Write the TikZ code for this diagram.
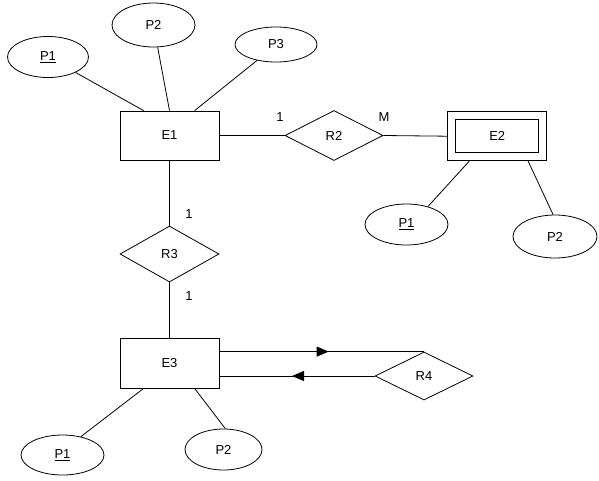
\documentclass[tikz,border=0pt]{standalone}
\usepackage{fontspec}
\setmainfont{Liberation Sans}
\usetikzlibrary{shapes.geometric,arrows.meta,decorations.markings}
\begin{document}
\begin{tikzpicture}[x=1pt,y=-1pt,
 every node/.style={font=\fontsize{13}{15}\selectfont},
 line width=0.8pt,
 entity/.style={draw, rectangle, minimum width=99pt, minimum height=49pt, inner sep=0pt},
 attr/.style={draw, ellipse, inner sep=0pt},
 rel/.style={draw, diamond, inner sep=0pt},
 card/.style={inner sep=0pt},
 midarrow/.style={postaction={decorate}, decoration={markings, mark=at position #1 with {\arrow{Triangle[length=12pt,width=10pt]}}}}
]
\useasboundingbox (0,0) rectangle (599,480);
% entities
\node[entity] (E1) at (169.5,135.5) {E1};
\node[entity, minimum width=99pt, minimum height=49pt] (E2) at (497.2,136.2) {};
\node[draw, rectangle, minimum width=83.3pt, minimum height=33.3pt, inner sep=0pt] (E2in) at (E2.center) {E2};
\node[entity, minimum height=50pt] (E3) at (169.5,363) {E3};
% relationships
\node[rel, minimum width=98pt, minimum height=50pt] (R2) at (334,135.5) {R2};
\node[rel, minimum width=99pt, minimum height=56pt] (R3) at (169.5,254) {R3};
\node[rel, minimum width=98pt, minimum height=48pt] (R4) at (424,376) {R4};
% attributes
\node[attr, minimum width=81pt, minimum height=41pt] (A1) at (48,57) {\underline{P1}};
\node[attr, minimum width=83pt, minimum height=44pt] (A2) at (153.5,25) {P2};
\node[attr, minimum width=82pt, minimum height=35pt] (A3) at (276,44.5) {P3};
\node[attr, minimum width=83pt, minimum height=41pt] (B1) at (406.5,224.5) {\underline{P1}};
\node[attr, minimum width=84pt, minimum height=43pt] (B2) at (555,236.5) {P2};
\node[attr, minimum width=83pt, minimum height=40pt] (C1) at (62.5,455) {\underline{P1}};
\node[attr, minimum width=77pt, minimum height=41pt] (C2) at (223.5,449.5) {P2};
% cardinalities
\node[card] (k1) at (280,117) {1};
\node[card] (k2) at (384,117) {M};
\node[card] (k3) at (189,214) {1};
\node[card] (k4) at (189,296) {1};
% connectors
\draw (A1) -- ([xshift=24pt]E1.north west);
\draw (A2) -- (E1.north);
\draw (A3.220) -- ([xshift=75pt]E1.north west);
\draw (E1.east) -- (R2.west);
\draw (R2.east) -- (E2.west);
\draw (B1.40) -- ([xshift=22pt]E2.south west);
\draw (B2.95) -- ([xshift=-19pt]E2.south east);
\draw (E1.south) -- (R3.north);
\draw (R3.south) -- (E3.north);
\draw (C1.45) -- ([xshift=24pt]E3.south west);
\draw (C2.85) -- ([xshift=75pt]E3.south west);
\draw[midarrow=0.534] (E3.east |- R4.north) -- (R4.north);
\draw[midarrow=0.532] (R4.west) -- (E3.east |- R4.west);
\end{tikzpicture}
\end{document}
